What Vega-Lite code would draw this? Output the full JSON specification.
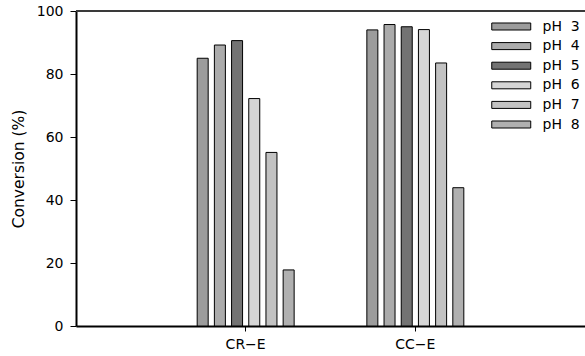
{
  "$schema": "https://vega.github.io/schema/vega-lite/v6.json",
  "width": 509,
  "height": 315,
  "autosize": {"type": "none"},
  "padding": {"left": 76, "top": 11, "right": 0, "bottom": 30},
  "config": {
    "view": {"stroke": null},
    "font": "DejaVu Sans",
    "axis": {"labelFont": "DejaVu Sans", "titleFont": "DejaVu Sans", "labelColor": "#000", "titleColor": "#000"}
  },
  "data": {
    "values": [
      {"sample": "CR−E", "ph": "pH 3", "conversion": 85.0},
      {"sample": "CR−E", "ph": "pH 4", "conversion": 89.2},
      {"sample": "CR−E", "ph": "pH 5", "conversion": 90.6},
      {"sample": "CR−E", "ph": "pH 6", "conversion": 72.2},
      {"sample": "CR−E", "ph": "pH 7", "conversion": 55.1},
      {"sample": "CR−E", "ph": "pH 8", "conversion": 17.8},
      {"sample": "CC−E", "ph": "pH 3", "conversion": 94.0},
      {"sample": "CC−E", "ph": "pH 4", "conversion": 95.7},
      {"sample": "CC−E", "ph": "pH 5", "conversion": 95.0},
      {"sample": "CC−E", "ph": "pH 6", "conversion": 94.1},
      {"sample": "CC−E", "ph": "pH 7", "conversion": 83.5},
      {"sample": "CC−E", "ph": "pH 8", "conversion": 43.9}
    ]
  },
  "layer": [
    {
      "mark": {"type": "bar", "stroke": "#000", "strokeWidth": 1},
      "encoding": {
        "x": {
          "field": "sample", "type": "nominal", "sort": ["CR−E", "CC−E"],
          "scale": {"paddingInner": 0.392, "paddingOuter": 0.696},
          "axis": {
            "title": null, "labelAngle": 0, "labelFontSize": 14, "labelPadding": 6,
            "domainColor": "#000", "domainWidth": 2, "tickColor": "#000", "tickSize": 5, "tickWidth": 1
          }
        },
        "xOffset": {
          "field": "ph", "type": "nominal",
          "scale": {"paddingInner": 0.36, "paddingOuter": 0.18}
        },
        "y": {
          "field": "conversion", "type": "quantitative",
          "scale": {"domain": [0, 100], "nice": false},
          "axis": {
            "title": "Conversion (%)", "titleFontSize": 15.5, "titleFontWeight": "normal", "titlePadding": 10,
            "values": [0, 20, 40, 60, 80, 100], "grid": false,
            "labelFontSize": 14, "labelPadding": 7,
            "domainColor": "#000", "domainWidth": 2, "tickColor": "#000", "tickSize": 6, "tickWidth": 1
          }
        },
        "fill": {
          "field": "ph", "type": "nominal",
          "scale": {"range": ["#9c9c9c", "#ababab", "#737373", "#d6d6d6", "#c2c2c2", "#b0b0b0"]},
          "legend": {
            "title": null, "orient": "none", "legendX": 424.75, "legendY": 5,
            "symbolType": "M-2,-0.36H2V0.36H-2Z", "symbolSize": 380,
            "symbolStrokeColor": "#000", "symbolStrokeWidth": 1,
            "labelFont": "DejaVu Sans", "labelFontSize": 14, "labelColor": "#000",
            "labelOffset": 20.75, "rowPadding": 1.6,
            "labelExpr": "replace(datum.label, ' ', '\u00a0\u00a0')"
          }
        }
      }
    },
    {
      "mark": {"type": "rule", "stroke": "#3a3a3a", "strokeWidth": 2},
      "encoding": {"y": {"datum": 100}}
    }
  ]
}
